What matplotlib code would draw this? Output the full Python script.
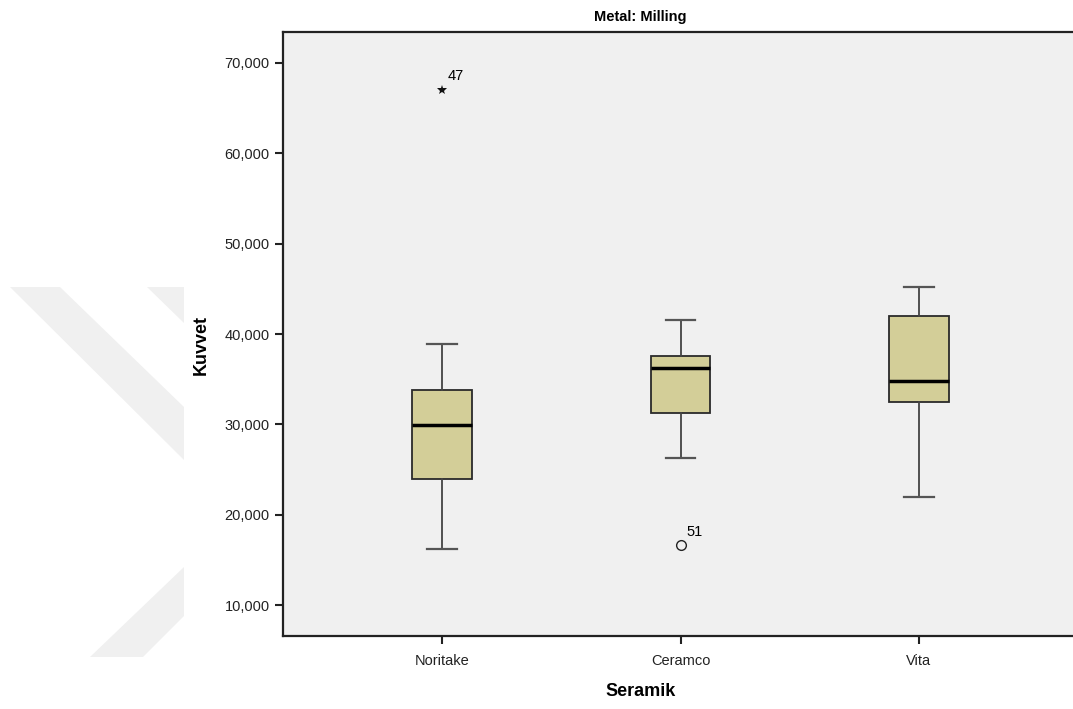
import matplotlib
matplotlib.use('Agg')
import matplotlib.pyplot as plt
from matplotlib.patches import Polygon
from matplotlib.ticker import FuncFormatter

plt.rcParams['font.family'] = ['Liberation Sans', 'DejaVu Sans']

# degerler
seramik = ['Noritake', 'Ceramco', 'Vita']
alt_biyik = [16200, 26300, 21950]
q1 = [23900, 31250, 32450]
medyan = [29900, 36200, 34850]
q3 = [33800, 37550, 42000]
ust_biyik = [38900, 41550, 45250]
uc_deger = [67000]        # 47 numarali (yildiz)
uc_deger_grup = [0]
uc_etiket = ['47']
aykiri = [16600]          # 51 numarali (daire)
aykiri_grup = [1]
aykiri_etiket = ['51']

W, H = 1073, 709
fig = plt.figure(figsize=(W / 100, H / 100), dpi=100)

# arka plandaki filigran
def px(x, y):
    return (x / W, 1 - y / H)

filigran = [
    [(10, 287), (60, 287), (184, 407), (184, 460)],
    [(147, 287), (184, 287), (184, 323)],
    [(184, 567), (184, 616), (143, 657), (90, 657)],
]
for p in filigran:
    fig.patches.append(Polygon([px(*q) for q in p], closed=True, transform=fig.transFigure,
                               facecolor='#F0F0F0', edgecolor='none', zorder=0))

ax = fig.add_axes([283 / W, (H - 636) / H, (1078 - 283) / W, (636 - 32) / H])
ax.set_facecolor('#F0F0F0')

stats = []
for i in range(len(seramik)):
    stats.append(dict(med=medyan[i], q1=q1[i], q3=q3[i], whislo=alt_biyik[i],
                      whishi=ust_biyik[i], fliers=[], label=seramik[i]))

ax.bxp(stats, positions=[1, 2, 3], widths=0.25, patch_artist=True, showfliers=False,
       boxprops=dict(facecolor='#D3CE98', edgecolor='#2A2A2A', linewidth=1.3),
       medianprops=dict(color='black', linewidth=2.5),
       whiskerprops=dict(color='#444444', linewidth=1.3),
       capprops=dict(color='#555555', linewidth=1.6),
       capwidths=0.125)

for v, g, e in zip(uc_deger, uc_deger_grup, uc_etiket):
    ax.plot(g + 1, v, marker='*', color='#111111', markersize=7.5, markeredgewidth=0,
            linestyle='none')
    ax.annotate(e, (g + 1, v), xytext=(4, 7), textcoords='offset points', fontsize=10.5)
for v, g, e in zip(aykiri, aykiri_grup, aykiri_etiket):
    ax.plot(g + 1, v, marker='o', markerfacecolor='none', markeredgecolor='#222222',
            markersize=7, markeredgewidth=1, linestyle='none')
    ax.annotate(e, (g + 1, v), xytext=(4, 7), textcoords='offset points', fontsize=10.5)

ax.set_xlim(0.333, 3.667)
ax.set_ylim(6570, 73430)
ax.set_yticks([10000, 20000, 30000, 40000, 50000, 60000, 70000])
ax.yaxis.set_major_formatter(FuncFormatter(lambda v, p: f'{int(v):,}'))
ax.set_xticks([1, 2, 3])
ax.set_xticklabels(seramik)
ax.tick_params(axis='both', direction='out', length=6, width=1.5, labelsize=10.5,
               color='#222222', labelcolor='#222222')
ax.tick_params(axis='x', pad=7)
for s in ax.spines.values():
    s.set_linewidth(1.6)
    s.set_color('#222222')

fig.text(640 / W, 1 - 17 / H, 'Metal: Milling', ha='center', va='center', fontsize=10.5, fontweight='bold')
fig.text(641 / W, 1 - 691 / H, 'Seramik', ha='center', va='center', fontsize=13, fontweight='bold')
fig.text(201 / W, 1 - 345 / H, 'Kuvvet', ha='center', va='center', fontsize=13,
         fontweight='bold', rotation=90)

fig.savefig('out.png', dpi=100)
